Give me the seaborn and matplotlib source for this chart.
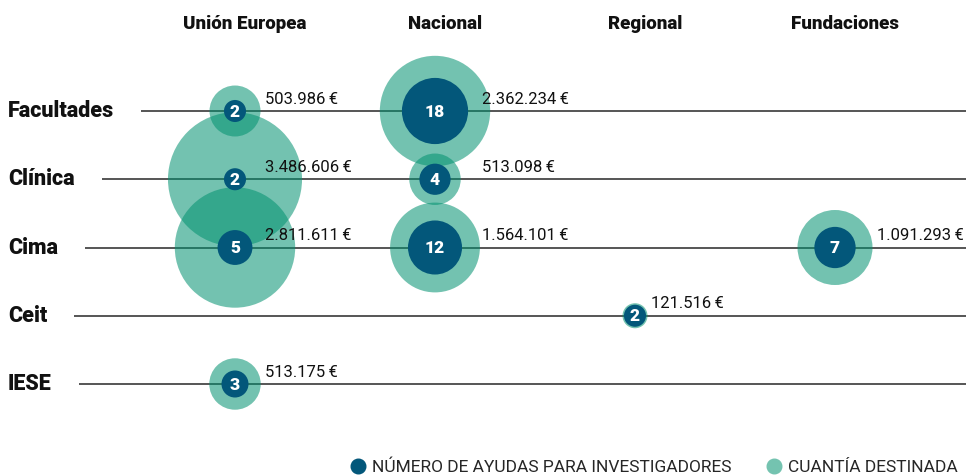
import matplotlib
matplotlib.use("Agg")
import matplotlib.pyplot as plt
from matplotlib.lines import Line2D
import numpy as np
import pandas as pd
import seaborn as sns

# ----------------------------
# Data
# ----------------------------

sources = ["Unión Europea", "Nacional", "Regional", "Fundaciones"]
centers = ["Facultades", "Clínica", "Cima", "Ceit", "IESE"]

center = ["Facultades", "Facultades", "Clínica", "Clínica", "Cima", "Cima", "Cima", "Ceit", "IESE"]
source = ["Unión Europea", "Nacional", "Unión Europea", "Nacional", "Unión Europea",
          "Nacional", "Fundaciones", "Regional", "Unión Europea"]
ayudas = [2, 18, 2, 4, 5, 12, 7, 2, 3]
cuantia = [503986, 2362234, 3486606, 513098, 2811611, 1564101, 1091293, 121516, 513175]
cuantia_txt = ["503.986\u202f€", "2.362.234\u202f€", "3.486.606\u202f€", "513.098\u202f€",
               "2.811.611\u202f€", "1.564.101\u202f€", "1.091.293\u202f€", "121.516\u202f€",
               "513.175\u202f€"]

df = pd.DataFrame({"centro": center, "fuente": source, "ayudas": ayudas,
                   "cuantia": cuantia, "texto": cuantia_txt})
df["x"] = df["fuente"].map(sources.index)
df["y"] = df["centro"].map(centers.index)

NAVY = "#03577a"
TEAL = "#01916f"
TEAL_LEG = "#74c3b0"
HEAVY = ["Roboto", "DejaVu Sans"]

# ----------------------------
# Figure
# ----------------------------

sns.set_style("white")
plt.rcParams["font.family"] = ["Roboto", "DejaVu Sans"]

fig = plt.figure(figsize=(9.66, 4.75), dpi=100)
ax = fig.add_axes([0, 0, 1, 1])
# pixel layout: columns every 200px starting at 235, rows every 68.25px starting at 111
ax.set_xlim(-235 / 200, (966 - 235) / 200)
ax.set_ylim((475 - 111) / 68.25, -111 / 68.25)
ax.axis("off")

# area proportional to value (s in pt^2, 1px = 0.72pt)
s_cuantia = (1.44 * 0.0359) ** 2 * df["cuantia"].to_numpy()
s_ayudas = (1.44 * 7.8) ** 2 * df["ayudas"].to_numpy()

sns.scatterplot(data=df, x="x", y="y", s=s_cuantia, color=TEAL, alpha=0.55,
                linewidth=0, zorder=2, ax=ax, legend=False)
sns.scatterplot(data=df, x="x", y="y", s=s_ayudas, color=NAVY,
                linewidth=0, zorder=3, ax=ax, legend=False)

# column headers
for i, name in enumerate(sources):
    ax.text(i + 0.05, -1.27, name, ha="center", va="center", fontsize=13.5,
            fontweight="heavy", family=HEAVY, color="#111111")

# row labels and guide lines
fig.canvas.draw()
renderer = fig.canvas.get_renderer()
inv = ax.transData.inverted()
for j, name in enumerate(centers):
    t = ax.text(-227 / 200, j, name, ha="left", va="center", fontsize=15.5,
                fontweight="heavy", family=HEAVY, color="#111111")
    bb = t.get_window_extent(renderer)
    x0 = inv.transform((bb.x1 + 27, 0))[0]
    ax.hlines(j, x0, ax.get_xlim()[1], color="#555555", lw=1.4, zorder=1)

# counts inside the navy bubbles
for _, r in df.iterrows():
    ax.text(r["x"], r["y"] + 0.01, str(r["ayudas"]), ha="center", va="center",
            color="white", fontsize=12.5, fontweight="heavy", family=HEAVY, zorder=4)

# amount labels
offsets_px = [30, 47, 16, 42]
for _, r in df.iterrows():
    ax.annotate(r["texto"], (r["x"], r["y"]),
                xytext=(offsets_px[r["x"]] * 0.72, 12 * 0.72),
                textcoords="offset points", ha="left", va="center",
                fontsize=12, color="#111111", zorder=5)

# legend
handles = [
    Line2D([], [], marker="o", ls="", markersize=10.5, color=NAVY,
           label="NÚMERO DE AYUDAS PARA INVESTIGADORES"),
    Line2D([], [], marker="o", ls="", markersize=10.5, color=TEAL_LEG,
           label="CUANTÍA DESTINADA"),
]
ax.legend(handles=handles, loc="center left", bbox_to_anchor=(349 / 966, 1 - 467 / 475),
          bbox_transform=fig.transFigure, ncol=2, frameon=False,
          handletextpad=0.35, columnspacing=1.9, handlelength=1.0, borderpad=0,
          borderaxespad=0,
          prop={"size": 12.5, "weight": "normal", "family": ["Roboto", "DejaVu Sans"]})

fig.savefig("out.png", dpi=100)
plt.close()
